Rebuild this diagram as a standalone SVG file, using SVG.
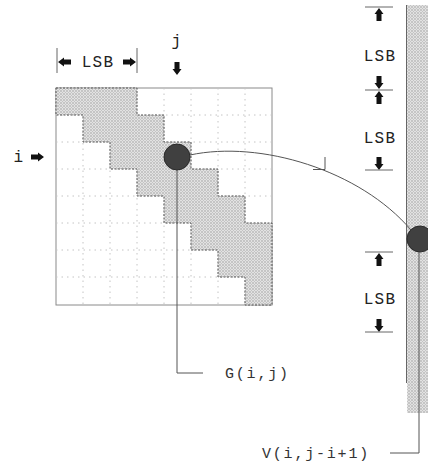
<svg xmlns="http://www.w3.org/2000/svg" xmlns:xlink="http://www.w3.org/1999/xlink" width="428" height="464" viewBox="0 0 428 464">
<style>
  .t { font-family: "Liberation Mono", "Courier New", monospace; font-size: 16px; fill: #222; letter-spacing: 1.2px; }
  .lbl { font-family: "Liberation Mono", "Courier New", monospace; font-size: 15px; fill: #333; letter-spacing: 1.8px; }
  .grid { stroke: #c4c4c4; stroke-width: 1; stroke-dasharray: 1.5 4; fill: none; }
  .ln { stroke: #555; stroke-width: 1; fill: none; }
  .tick { stroke: #666; stroke-width: 1; fill: none; }
  .band { fill: url(#dots); stroke: #555; stroke-width: 1; stroke-dasharray: 2 1.5; }
  .arr { fill: #111; }
  .node { fill: #404040; stroke: #2a2a2a; stroke-width: 1; }
</style>
<defs>
  <pattern id="dots" width="3" height="3" patternUnits="userSpaceOnUse">
    <rect width="3" height="3" fill="#e2e2e2"/>
    <circle cx="1" cy="1" r="0.8" fill="#a0a0a0"/>
    <circle cx="2.5" cy="2.5" r="0.5" fill="#b8b8b8"/>
  </pattern>
  <path id="arr" class="arr" d="M-2.5,-13 L2.5,-13 L2.5,-6 L4.5,-6 L0,0 L-4.5,-6 L-2.5,-6 Z"/>
</defs>
<rect width="428" height="464" fill="#fff"/>

<g id="matrix">
  <rect x="56" y="88" width="216" height="217" fill="#fff" stroke="#8a8a8a" stroke-width="1"/>
  <g class="grid">
    <line x1="83" y1="88" x2="83" y2="305"/>
    <line x1="110" y1="88" x2="110" y2="305"/>
    <line x1="137" y1="88" x2="137" y2="305"/>
    <line x1="164" y1="88" x2="164" y2="305"/>
    <line x1="191" y1="88" x2="191" y2="305"/>
    <line x1="218" y1="88" x2="218" y2="305"/>
    <line x1="245" y1="88" x2="245" y2="305"/>
    <line x1="56" y1="115" x2="272" y2="115"/>
    <line x1="56" y1="142" x2="272" y2="142"/>
    <line x1="56" y1="169" x2="272" y2="169"/>
    <line x1="56" y1="196" x2="272" y2="196"/>
    <line x1="56" y1="223" x2="272" y2="223"/>
    <line x1="56" y1="250" x2="272" y2="250"/>
    <line x1="56" y1="277" x2="272" y2="277"/>
  </g>
  <path class="band" d="M56,88 L137,88 L137,115 L164,115 L164,142 L191,142 L191,169 L218,169 L218,196 L245,196 L245,223 L272,223 L272,305 L245,305 L245,277 L218,277 L218,250 L191,250 L191,223 L164,223 L164,196 L137,196 L137,169 L110,169 L110,142 L83,142 L83,115 L56,115 Z"/>
</g>

<g id="vector">
  <rect x="407" y="5" width="21" height="408" fill="url(#dots)"/>
  <line class="tick" x1="406.5" y1="5" x2="406.5" y2="383"/>
</g>

<g id="dims">
  <line class="tick" x1="57" y1="48" x2="57" y2="73"/>
  <line class="tick" x1="137" y1="48" x2="137" y2="73"/>
  <use xlink:href="#arr" transform="translate(58,62) rotate(90)"/>
  <use xlink:href="#arr" transform="translate(136,62) rotate(-90)"/>
  <text class="t" x="98" y="67" text-anchor="middle">LSB</text>

  <text class="t" x="177" y="46" text-anchor="middle">j</text>
  <use xlink:href="#arr" transform="translate(177,75)"/>

  <text class="t" x="19" y="162" text-anchor="middle">i</text>
  <use xlink:href="#arr" transform="translate(44,157) rotate(-90)"/>

  <line class="tick" x1="365" y1="7" x2="393" y2="7"/>
  <use xlink:href="#arr" transform="translate(379,8) rotate(180)"/>
  <text class="t" x="380" y="61" text-anchor="middle">LSB</text>
  <line class="tick" x1="365" y1="90" x2="393" y2="90"/>
  <use xlink:href="#arr" transform="translate(379,89)"/>
  <use xlink:href="#arr" transform="translate(379,91) rotate(180)"/>
  <text class="t" x="380" y="143" text-anchor="middle">LSB</text>
  <use xlink:href="#arr" transform="translate(379,170)"/>
  <line class="tick" x1="365" y1="170" x2="393" y2="170"/>

  <line class="tick" x1="365" y1="252" x2="393" y2="252"/>
  <use xlink:href="#arr" transform="translate(379,253) rotate(180)"/>
  <text class="t" x="380" y="304" text-anchor="middle">LSB</text>
  <use xlink:href="#arr" transform="translate(379,332)"/>
  <line class="tick" x1="365" y1="332" x2="393" y2="332"/>
</g>

<g id="connectors">
  <path class="ln" d="M190,155 C260,140 360,170 411,230"/>
  <path class="ln" d="M313,169.5 L325,169.5 L325,157"/>
  <path class="ln" d="M177,170 L177,373 L203,373"/>
  <path class="ln" d="M419,252 L419,453 L390,453"/>
</g>

<g id="G">
  <circle class="node" cx="177" cy="157" r="13"/>
  <text class="lbl" x="225" y="378">G(i,j)</text>
</g>

<g id="V">
  <circle class="node" cx="420" cy="239" r="13"/>
  <text class="lbl" x="262" y="458">V(i,j-i+1)</text>
</g>
</svg>
